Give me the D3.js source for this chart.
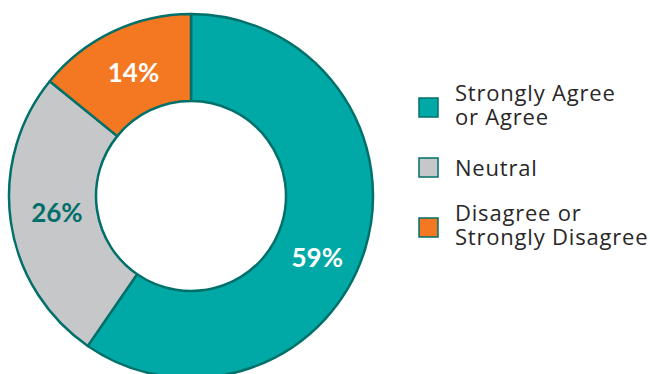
<!DOCTYPE html>
<html><head><meta charset="utf-8">
<script src="https://cdn.jsdelivr.net/npm/d3@7"></script>
<style>body{margin:0;background:#fff}svg{display:block}</style>
</head><body>
<svg id="c" width="650" height="374"></svg>
<script>
const categories = ["Strongly Agree or Agree", "Neutral", "Disagree or Strongly Disagree"];
const legendLines = [["Strongly Agree", "or Agree"], ["Neutral"], ["Disagree or", "Strongly Disagree"]];
const values = [59, 26, 14];
const labels = ["59%", "26%", "14%"];

const colors = ["#00A9A6", "#C6C7C9", "#F47721"];
const labelColors = ["#ffffff", "#006F69", "#ffffff"];
const labelOffsets = [[-6, 20], [3, -4], [2, 1]];
const strokeCol = "#00706A";

const svg = d3.select("#c");
const cx = 191, cy = 196, rOut = 182, rIn = 95;
const g = svg.append("g").attr("transform", `translate(${cx},${cy})`);
const pie = d3.pie().sort(null).value(d => d);
const arcs = pie(values);
const arc = d3.arc().innerRadius(rIn).outerRadius(rOut);

g.selectAll("path").data(arcs).enter().append("path")
  .attr("d", arc).attr("fill", (d, i) => colors[i])
  .attr("stroke", strokeCol).attr("stroke-width", 2.5).attr("stroke-linejoin", "round");

g.selectAll("text.lbl").data(arcs).enter().append("text")
  .attr("class", "lbl")
  .attr("x", (d, i) => arc.centroid(d)[0] + labelOffsets[i][0])
  .attr("y", (d, i) => arc.centroid(d)[1] + labelOffsets[i][1])
  .attr("text-anchor", "middle").attr("dominant-baseline", "central")
  .attr("font-family", "Lato, sans-serif").attr("font-weight", "bold")
  .attr("font-size", 26).attr("fill", (d, i) => labelColors[i])
  .text((d, i) => labels[i]);

const lg = svg.append("g").attr("transform", "translate(418,97)");
const rowY = d3.scalePoint().domain(categories).range([0, 120]);
const row = lg.selectAll("g.row").data(categories).enter().append("g")
  .attr("transform", d => `translate(0,${rowY(d)})`);
row.append("rect").attr("x", 1).attr("y", 1).attr("width", 19).attr("height", 19)
  .attr("fill", (d, i) => colors[i]).attr("stroke", strokeCol).attr("stroke-width", 1.5);
row.each(function(d, i) {
  const lines = legendLines[i];
  const startY = lines.length === 1 ? 19 : 4;
  lines.forEach((ln, j) => {
    d3.select(this).append("text")
      .attr("font-family", "'Open Sans', sans-serif").attr("font-size", 22)
      .attr("letter-spacing", 0.8).attr("fill", "#2a2728")
      .attr("x", 37).attr("y", startY + j * 24).text(ln);
  });
});
</script>
</body></html>
